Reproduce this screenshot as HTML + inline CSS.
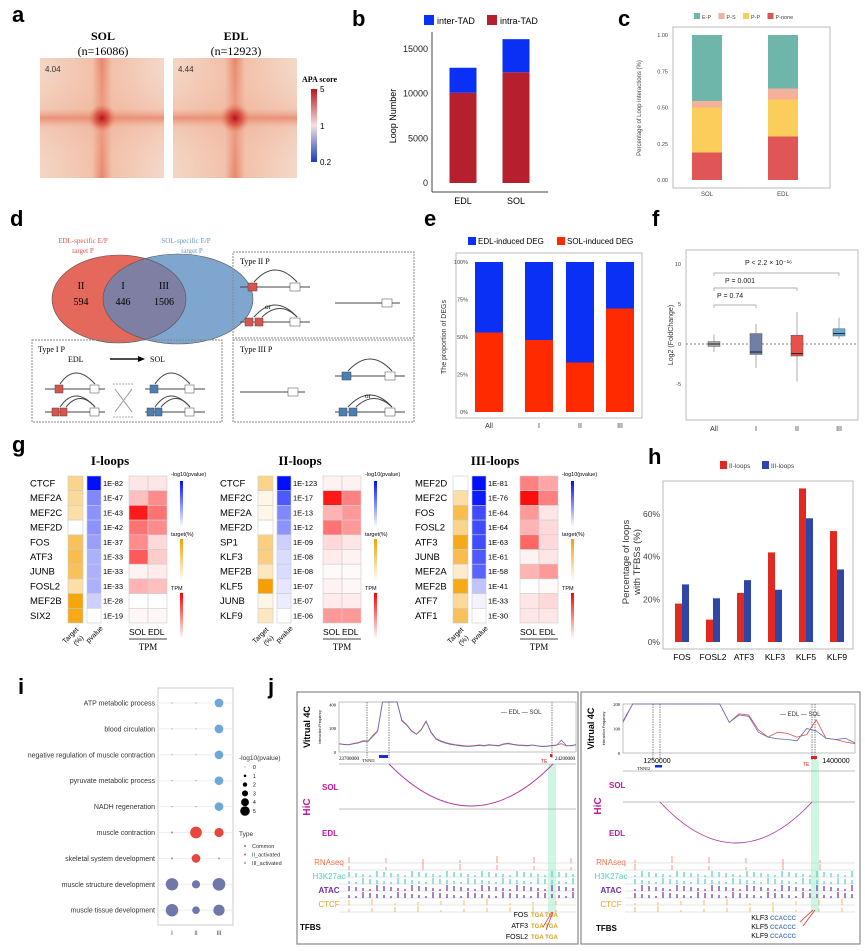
<!DOCTYPE html>
<html><head><meta charset="utf-8"><style>
html,body{margin:0;padding:0;background:#fff}
svg{display:block;font-family:"Liberation Sans",sans-serif}
.pl{font-family:"Liberation Sans",sans-serif;font-weight:bold;font-size:22px}
.ser{font-family:"Liberation Serif",serif}
</style></head><body>
<svg id="fig" width="865" height="951" viewBox="0 0 865 951" xmlns="http://www.w3.org/2000/svg">
<defs>
<linearGradient id="apaH" x1="0" x2="1" y1="0" y2="0"><stop offset="0" stop-color="#f4d6c6"/><stop offset="0.42" stop-color="#f2c0a8"/><stop offset="0.5" stop-color="#e8866a"/><stop offset="0.58" stop-color="#f2c0a8"/><stop offset="1" stop-color="#f4d8ca"/></linearGradient>
<linearGradient id="apaV" x1="0" x2="0" y1="0" y2="1"><stop offset="0" stop-color="#f4d6c6" stop-opacity="0"/><stop offset="0.42" stop-color="#f0b49c" stop-opacity="0.4"/><stop offset="0.5" stop-color="#e8866a" stop-opacity="0.85"/><stop offset="0.58" stop-color="#f0b49c" stop-opacity="0.4"/><stop offset="1" stop-color="#f4d6c6" stop-opacity="0"/></linearGradient>
<radialGradient id="apaC"><stop offset="0" stop-color="#b8101c"/><stop offset="0.5" stop-color="#d85040" stop-opacity="0.8"/><stop offset="1" stop-color="#e8866a" stop-opacity="0"/></radialGradient>
<linearGradient id="cbA" x1="0" x2="0" y1="0" y2="1"><stop offset="0" stop-color="#c0141c"/><stop offset="0.5" stop-color="#f4e0e0"/><stop offset="1" stop-color="#1a3cc0"/></linearGradient>
<linearGradient id="cbB" x1="0" x2="0" y1="0" y2="1"><stop offset="0" stop-color="#0010ff"/><stop offset="1" stop-color="#fff"/></linearGradient>
<linearGradient id="cbO" x1="0" x2="0" y1="0" y2="1"><stop offset="0" stop-color="#f5a000"/><stop offset="1" stop-color="#fff"/></linearGradient>
<linearGradient id="cbR" x1="0" x2="0" y1="0" y2="1"><stop offset="0" stop-color="#ff0000"/><stop offset="1" stop-color="#fff"/></linearGradient>
<clipPath id="redClip"><ellipse cx="119" cy="299" rx="67" ry="44"/></clipPath>
</defs>

<!-- panel labels -->
<text class="pl" x="12" y="22">a</text>
<text class="pl" x="352" y="26">b</text>
<text class="pl" x="618" y="26">c</text>
<text class="pl" x="10" y="226">d</text>
<text class="pl" x="424" y="226">e</text>
<text class="pl" x="652" y="226">f</text>
<text class="pl" x="12" y="452">g</text>
<text class="pl" x="648" y="464">h</text>
<text class="pl" x="18" y="694">i</text>
<text class="pl" x="268" y="694">j</text>

<!-- panel a -->
<g>
<text class="ser" x="103" y="40" font-size="12" font-weight="bold" text-anchor="middle">SOL</text>
<text class="ser" x="103" y="55" font-size="12" text-anchor="middle">(n=16086)</text>
<text class="ser" x="236" y="40" font-size="12" font-weight="bold" text-anchor="middle">EDL</text>
<text class="ser" x="236" y="55" font-size="12" text-anchor="middle">(n=12923)</text>
<g><rect x="40" y="58" width="124" height="120" fill="url(#apaH)"/><rect x="40" y="58" width="124" height="120" fill="url(#apaV)"/><rect x="88" y="104" width="28" height="28" fill="url(#apaC)"/></g>
<g><rect x="173" y="58" width="124" height="120" fill="url(#apaH)"/><rect x="173" y="58" width="124" height="120" fill="url(#apaV)"/><rect x="220" y="103" width="30" height="30" fill="url(#apaC)"/></g>
<text x="45" y="72" font-size="8" fill="#333">4.04</text>
<text x="178" y="72" font-size="8" fill="#333">4.44</text>
<text class="ser" x="302" y="82" font-size="8" font-weight="bold">APA score</text>
<rect x="311" y="89" width="6" height="73" fill="url(#cbA)"/>
<text x="320" y="92" font-size="8">5</text>
<text x="320" y="129" font-size="8">1</text>
<text x="320" y="165" font-size="8">0.2</text>
</g>

<g id="pb"></g>
<g id="pc"></g>

<!-- panel d -->
<g font-family="Liberation Serif,serif">
<text x="83" y="243" font-size="7" fill="#d9534f" text-anchor="middle">EDL-specific E/P</text>
<text x="83" y="253" font-size="7" fill="#d9534f" text-anchor="middle">target P</text>
<text x="186" y="243" font-size="7" fill="#6b96c8" text-anchor="middle">SOL-specific E/P</text>
<text x="192" y="253" font-size="7" fill="#6b96c8" text-anchor="middle">target P</text>
<ellipse cx="119" cy="299" rx="67" ry="44" fill="#e5685c"/>
<ellipse cx="178" cy="299" rx="75" ry="45" fill="#7ea6cf"/>
<ellipse cx="178" cy="299" rx="75" ry="45" fill="#7e7fa2" clip-path="url(#redClip)"/>
<ellipse cx="119" cy="299" rx="67" ry="44" fill="none" stroke="#555" stroke-width="0.6"/>
<ellipse cx="178" cy="299" rx="75" ry="45" fill="none" stroke="#555" stroke-width="0.6"/>
<text x="81" y="289" font-size="10" text-anchor="middle">II</text>
<text x="81" y="305" font-size="10" text-anchor="middle">594</text>
<text x="123" y="289" font-size="10" text-anchor="middle">I</text>
<text x="123" y="305" font-size="10" text-anchor="middle">446</text>
<text x="164" y="289" font-size="10" text-anchor="middle">III</text>
<text x="164" y="305" font-size="10" text-anchor="middle">1506</text>
</g>
<g font-family="Liberation Serif,serif">
<rect x="32" y="340" width="190" height="82" fill="none" stroke="#888" stroke-dasharray="2,1"/>
<text x="38" y="352" font-size="8">Type I P</text>
<text x="68" y="362" font-size="8">EDL</text><text x="150" y="362" font-size="8">SOL</text>
<line x1="110" y1="359" x2="138" y2="359" stroke="#111" stroke-width="1.5"/><path d="M138 356 L145 359 L138 362Z"/>
<g stroke="#444" stroke-width="1" fill="none">
<line x1="45" y1="389" x2="105" y2="389"/><line x1="45" y1="412" x2="105" y2="412"/>
<line x1="145" y1="389" x2="205" y2="389"/><line x1="145" y1="412" x2="205" y2="412"/>
<path d="M60 384 Q75 362 95 384"/><path d="M60 407 Q75 385 95 407"/><path d="M66 407 Q80 390 95 407"/>
<path d="M155 384 Q170 362 190 384"/><path d="M155 407 Q170 385 190 407"/><path d="M161 407 Q176 390 190 407"/>
<line x1="115" y1="389" x2="132" y2="412" stroke="#999"/><line x1="115" y1="412" x2="132" y2="389" stroke="#999"/>
<line x1="113" y1="384" x2="134" y2="384" stroke="#aaa" stroke-dasharray="2,1"/><line x1="113" y1="417" x2="134" y2="417" stroke="#aaa" stroke-dasharray="2,1"/>
</g>
<rect x="55" y="385" width="8" height="8" fill="#d9534f" stroke="#444" stroke-width=".5"/><rect x="52" y="408" width="7" height="8" fill="#d9534f" stroke="#444" stroke-width=".5"/><rect x="60" y="408" width="7" height="8" fill="#d9534f" stroke="#444" stroke-width=".5"/>
<rect x="90" y="385" width="9" height="8" fill="#fff" stroke="#444" stroke-width=".5"/><rect x="90" y="408" width="9" height="8" fill="#fff" stroke="#444" stroke-width=".5"/>
<rect x="150" y="385" width="8" height="8" fill="#4a7fb5" stroke="#444" stroke-width=".5"/><rect x="147" y="408" width="7" height="8" fill="#4a7fb5" stroke="#444" stroke-width=".5"/><rect x="155" y="408" width="7" height="8" fill="#4a7fb5" stroke="#444" stroke-width=".5"/>
<rect x="185" y="385" width="9" height="8" fill="#fff" stroke="#444" stroke-width=".5"/><rect x="185" y="408" width="9" height="8" fill="#fff" stroke="#444" stroke-width=".5"/>
</g>
<g font-family="Liberation Serif,serif">
<rect x="233" y="252" width="181" height="86" fill="none" stroke="#888" stroke-dasharray="2,1"/>
<text x="240" y="264" font-size="8">Type II P</text>
<g stroke="#444" fill="none"><line x1="240" y1="287" x2="310" y2="287"/><line x1="240" y1="322" x2="310" y2="322"/><line x1="335" y1="303" x2="400" y2="303"/>
<path d="M254 282 Q275 258 297 282"/><path d="M254 317 Q275 293 297 317"/><path d="M262 317 Q280 300 297 317"/></g>
<text x="265" y="309" font-size="7">or</text>
<rect x="248" y="283" width="9" height="8" fill="#d9534f" stroke="#444" stroke-width=".5"/><rect x="245" y="318" width="8" height="8" fill="#d9534f" stroke="#444" stroke-width=".5"/><rect x="255" y="318" width="8" height="8" fill="#d9534f" stroke="#444" stroke-width=".5"/>
<rect x="290" y="283" width="10" height="8" fill="#fff" stroke="#444" stroke-width=".5"/><rect x="290" y="318" width="10" height="8" fill="#fff" stroke="#444" stroke-width=".5"/><rect x="382" y="299" width="10" height="8" fill="#fff" stroke="#444" stroke-width=".5"/>
</g>
<g font-family="Liberation Serif,serif">
<rect x="233" y="340" width="181" height="82" fill="none" stroke="#888" stroke-dasharray="2,1"/>
<text x="240" y="352" font-size="8">Type III P</text>
<g stroke="#444" fill="none"><line x1="240" y1="392" x2="305" y2="392"/><line x1="335" y1="376" x2="405" y2="376"/><line x1="335" y1="412" x2="405" y2="412"/>
<path d="M348 371 Q370 347 392 371"/><path d="M348 407 Q370 383 392 407"/><path d="M356 407 Q374 390 392 407"/></g>
<text x="365" y="398" font-size="7">or</text>
<rect x="288" y="388" width="10" height="8" fill="#fff" stroke="#444" stroke-width=".5"/>
<rect x="342" y="372" width="9" height="8" fill="#4a7fb5" stroke="#444" stroke-width=".5"/><rect x="339" y="408" width="8" height="8" fill="#4a7fb5" stroke="#444" stroke-width=".5"/><rect x="349" y="408" width="8" height="8" fill="#4a7fb5" stroke="#444" stroke-width=".5"/>
<rect x="385" y="372" width="10" height="8" fill="#fff" stroke="#444" stroke-width=".5"/><rect x="385" y="408" width="10" height="8" fill="#fff" stroke="#444" stroke-width=".5"/>
</g>

<g id="pe"></g>
<g id="pf"></g>
<g id="pg"></g>
<g id="ph"></g>
<g id="pi"></g>

<!-- panel j -->
<g>
<rect x="297" y="692" width="281" height="252" fill="none" stroke="#888" stroke-width="1.2"/>
<rect x="581" y="692" width="279" height="252" fill="none" stroke="#888" stroke-width="1.2"/>
<g id="pj"></g>
</g>
</svg>
<script>
// ---------- data ----------
const bCats=['EDL','SOL'];
const bIntra=[10100,12400];
const bInter=[2800,3700];
const bTicks=[0,5000,10000,15000];

const cCats=['SOL','EDL'];
const cNone=[0.19,0.30];
const cPP=[0.31,0.255];
const cPS=[0.045,0.075];
const cEP=[0.455,0.37];
const cTicks=[0,0.25,0.5,0.75,1];
const cTickLabels=['0.00','0.25','0.50','0.75','1.00'];

const eCats=['All','I','II','III'];
const eSol=[0.53,0.48,0.33,0.69];
const eTicks=[0,0.25,0.5,0.75,1];
const eTickLabels=['0%','25%','50%','75%','100%'];

const fCats=['All','I','II','III'];
const fQ1=[-0.3,-1.3,-1.5,1.0];
const fMed=[0,-1.0,-1.2,1.3];
const fQ3=[0.3,1.3,1.1,1.9];
const fLo=[-1.0,-3.0,-4.7,0.6];
const fHi=[1.2,2.5,4.0,3.3];
const fTicks=[-5,0,5,10];

const gI_names=['CTCF','MEF2A','MEF2C','MEF2D','FOS','ATF3','JUNB','FOSL2','MEF2B','SIX2'];
const gI_target=[0.45,0.4,0.35,0,0.65,0.7,0.65,0.35,0.95,0.9];
const gI_p=[1,0.5,0.45,0.45,0.4,0.33,0.33,0.33,0.2,0];
const gI_pl=['1E-82','1E-47','1E-43','1E-42','1E-37','1E-33','1E-33','1E-33','1E-28','1E-19'];
const gI_sol=[0.1,0.25,0.9,0.55,0.45,0.65,0.05,0.3,0,0.03];
const gI_edl=[0.1,0.45,0.55,0.45,0.15,0.2,0.08,0.25,0,0.03];
const gII_names=['CTCF','MEF2C','MEF2A','MEF2D','SP1','KLF3','MEF2B','KLF5','JUNB','KLF9'];
const gII_target=[0.45,0.1,0.1,0,0.5,0.5,0.25,1,0.1,0.25];
const gII_p=[1,0.7,0.5,0.45,0.2,0.15,0.15,0.1,0.08,0];
const gII_pl=['1E-123','1E-17','1E-13','1E-12','1E-09','1E-08','1E-08','1E-07','1E-07','1E-06'];
const gII_sol=[0.05,0.9,0.3,0.55,0.15,0.08,0.02,0.05,0.08,0.4];
const gII_edl=[0.05,0.5,0.4,0.4,0.1,0.05,0.02,0.03,0.08,0.4];
const gIII_names=['MEF2D','MEF2C','FOS','FOSL2','ATF3','JUNB','MEF2A','MEF2B','ATF7','ATF1'];
const gIII_target=[0,0.35,0.7,0.45,0.9,0.7,0.2,0.9,0.4,0.65];
const gIII_p=[1,0.95,0.75,0.75,0.75,0.7,0.65,0.25,0.05,0];
const gIII_pl=['1E-81','1E-76','1E-64','1E-64','1E-63','1E-61','1E-58','1E-41','1E-33','1E-30'];
const gIII_sol=[0.5,0.95,0.4,0.3,0.6,0.05,0.3,0,0.1,0.1];
const gIII_edl=[0.35,0.5,0.1,0.15,0.15,0.1,0.4,0.02,0.15,0.1];

const hCats=['FOS','FOSL2','ATF3','KLF3','KLF5','KLF9'];
const hII=[18,10.5,23,42,72,52];
const hIII=[27,20.5,29,24.5,58,34];
const hTicks=[0,20,40,60];

const iTerms=['ATP metabolic process','blood circulation','negative regulation of muscle contraction','pyruvate metabolic process','NADH regeneration','muscle contraction','skeletal system development','muscle structure development','muscle tissue development'];
const iCols=['I','II','III'];
const iValI=[0,0,0,0,0,0.3,0.3,4.5,4.5];
const iValII=[0,0,0,0,0,4.2,3,2.8,2.6];
const iValIII=[3,3,3,3,3,3.2,0.3,4.6,4];
const iType=['III','III','III','III','III','II','II','C','C'];
const iSizeLegend=[0,1,2,3,4,5];

const jL_edl=[70,65,62,72,80,95,90,140,180,420,420,420,420,270,230,180,150,190,260,170,115,95,80,70,62,58,52,50,55,60,55,62,58,55,68,75,65,60,58,55,60,52,48,50,55,60,70,50,55,62];
const jL_sol=[68,62,60,68,76,90,88,130,175,420,420,420,420,260,225,175,148,185,255,165,110,88,75,65,58,52,48,46,50,55,50,58,55,50,64,70,62,56,54,50,58,50,45,48,52,56,100,55,52,60];
const jR_edl=[125,210,250,250,250,250,250,250,250,250,250,125,160,155,95,65,85,80,65,75,135,60,55,45,38];
const jR_sol=[130,220,250,250,250,250,250,250,250,250,250,125,155,150,85,65,58,55,50,100,90,60,55,60,42];
// ---------- helpers ----------
const NS='http://www.w3.org/2000/svg';
function mk(parent,tag,attrs,text){const e=document.createElementNS(NS,tag);for(const k in attrs)e.setAttribute(k,attrs[k]);if(text!==undefined)e.textContent=text;parent.appendChild(e);return e;}
function lerpCol(c,t){const r=Math.round(255+(c[0]-255)*t),g=Math.round(255+(c[1]-255)*t),b=Math.round(255+(c[2]-255)*t);return `rgb(${r},${g},${b})`;}
let el;
// ---------- panel b ----------
(function(){const g=document.getElementById('pb');
const y=v=>183-v*(134/15000);const xc=[463,516];
el=mk(g,'line',{x1:432,y1:32,x2:432,y2:192,stroke:'#444'});
el=mk(g,'line',{x1:432,y1:192,x2:548,y2:192,stroke:'#444'});
bTicks.forEach(t=>{el=mk(g,'text',{x:428,y:y(t)+3,'font-size':9,'text-anchor':'end',fill:'#222'},t);});
el=mk(g,'text',{x:0,y:0,'font-size':9,'text-anchor':'middle',transform:'translate(396,116) rotate(-90)'},'Loop Number');
bCats.forEach((c,i)=>{
el=mk(g,'rect',{x:xc[i]-13.5,y:y(bIntra[i]),width:27,height:y(0)-y(bIntra[i]),fill:'#b61f2e'});
el=mk(g,'rect',{x:xc[i]-13.5,y:y(bIntra[i]+bInter[i]),width:27,height:y(bIntra[i])-y(bIntra[i]+bInter[i]),fill:'#0a2ff5'});
el=mk(g,'text',{x:xc[i],y:204,'font-size':9,'text-anchor':'middle'},c);});
el=mk(g,'rect',{x:424,y:15,width:10,height:10,fill:'#0a2ff5'});
el=mk(g,'text',{x:437,y:24,'font-size':9},'inter-TAD');
el=mk(g,'rect',{x:487,y:15,width:10,height:10,fill:'#b61f2e'});
el=mk(g,'text',{x:500,y:24,'font-size':9},'intra-TAD');
})();
// ---------- panel c ----------
(function(){const g=document.getElementById('pc');
const y=v=>180-v*145;const xc=[707,783];
el=mk(g,'rect',{x:673,y:27,width:157,height:161,fill:'none',stroke:'#bbb'});
cTicks.forEach((t,i)=>{el=mk(g,'text',{x:668,y:y(t)+2,'font-size':5.5,'text-anchor':'end',fill:'#444'},cTickLabels[i]);});
el=mk(g,'text',{x:0,y:0,'font-size':6,'text-anchor':'middle',fill:'#444',transform:'translate(641,108) rotate(-90)'},'Percentage of Loop interactions (%)');
const segs=[[cNone,'#e05555','P-none'],[cPP,'#fbcd5a','P-P'],[cPS,'#f5b09a','P-S'],[cEP,'#6db6a9','E-P']];
cCats.forEach((c,i)=>{let acc=0;segs.forEach(s=>{const v=s[0][i];el=mk(g,'rect',{x:xc[i]-15,y:y(acc+v),width:30,height:y(acc)-y(acc+v),fill:s[1]});acc+=v;});
el=mk(g,'text',{x:xc[i],y:196,'font-size':6,'text-anchor':'middle',fill:'#444'},c);});
const leg=[['E-P','#6db6a9'],['P-S','#f5b09a'],['P-P','#fbcd5a'],['P-none','#e05555']];let lx=694;
leg.forEach(l=>{el=mk(g,'rect',{x:lx,y:13,width:6,height:6,fill:l[1]});
el=mk(g,'text',{x:lx+8,y:19,'font-size':5.5,fill:'#444'},l[0]);lx+=l[0].length*3.5+14;});
})();
// ---------- panel e ----------
(function(){const g=document.getElementById('pe');
const y=v=>412-v*150;const xc=[489,539,580,620];
el=mk(g,'rect',{x:456,y:253,width:186,height:165,fill:'none',stroke:'#bbb'});
eTicks.forEach((t,i)=>{el=mk(g,'text',{x:468,y:y(t)+2,'font-size':5.5,'text-anchor':'end',fill:'#444'},eTickLabels[i]);});
el=mk(g,'text',{x:0,y:0,'font-size':7,'text-anchor':'middle',fill:'#333',transform:'translate(446,337) rotate(-90)'},'The proportion of DEGs');
eCats.forEach((c,i)=>{
el=mk(g,'rect',{x:xc[i]-14,y:y(eSol[i]),width:28,height:y(0)-y(eSol[i]),fill:'#ff2a00'});
el=mk(g,'rect',{x:xc[i]-14,y:y(1),width:28,height:y(eSol[i])-y(1),fill:'#0a2ff5'});
el=mk(g,'text',{x:xc[i],y:428,'font-size':7,'text-anchor':'middle',fill:'#333'},c);});
el=mk(g,'rect',{x:468,y:237,width:8,height:8,fill:'#0a2ff5'});
el=mk(g,'text',{x:478,y:244,'font-size':8},'EDL-induced DEG');
el=mk(g,'rect',{x:557,y:237,width:8,height:8,fill:'#ff2a00'});
el=mk(g,'text',{x:567,y:244,'font-size':8},'SOL-induced DEG');
})();
// ---------- panel f ----------
(function(){const g=document.getElementById('pf');
const y=v=>344-v*8;const xc=[714,756,797,839];const cols=['#aaaaaa','#6f7fa6','#e8504a','#6aaad2'];
el=mk(g,'rect',{x:686,y:250,width:172,height:170,fill:'none',stroke:'#bbb'});
fTicks.forEach(t=>{el=mk(g,'text',{x:681,y:y(t)+2,'font-size':5.5,'text-anchor':'end',fill:'#444'},t);});
el=mk(g,'text',{x:0,y:0,'font-size':7,'text-anchor':'middle',fill:'#333',transform:'translate(673,335) rotate(-90)'},'Log2 (FoldChange)');
el=mk(g,'line',{x1:686,y1:y(0),x2:858,y2:y(0),stroke:'#555','stroke-dasharray':'2,2','stroke-width':0.7});
fCats.forEach((c,i)=>{
el=mk(g,'line',{x1:xc[i],y1:y(fLo[i]),x2:xc[i],y2:y(fHi[i]),stroke:'#777','stroke-width':0.6});
el=mk(g,'rect',{x:xc[i]-6,y:y(fQ3[i]),width:12,height:y(fQ1[i])-y(fQ3[i]),fill:cols[i],stroke:'#555','stroke-width':0.5});
el=mk(g,'line',{x1:xc[i]-6,y1:y(fMed[i]),x2:xc[i]+6,y2:y(fMed[i]),stroke:'#222','stroke-width':1});
el=mk(g,'text',{x:xc[i],y:431,'font-size':7,'text-anchor':'middle',fill:'#333'},c);});
const br=[[1,305,'P = 0.74',717,298],[2,288,'P = 0.001',725,283],[3,273,'P < 2.2 × 10⁻¹⁶',745,265]];
br.forEach(b=>{el=mk(g,'path',{d:`M${xc[0]} ${b[1]+3} V${b[1]} H${xc[b[0]]} V${b[1]+3}`,fill:'none',stroke:'#999','stroke-width':0.7});
el=mk(g,'text',{x:b[3],y:b[4],'font-size':7,fill:'#222'},b[2]);});
})();
// ---------- panel g ----------
(function(){const g=document.getElementById('pg');
const O=[245,160,0],B=[0,16,255],R=[255,0,0];const rowY=i=>476+i*14.7;const rh=14.7;
function panel(title,ox,tx,names,tg,p,pl,sol,edl){
el=mk(g,'text',{x:ox+110,y:465,'font-size':13,'font-weight':'bold','text-anchor':'middle','font-family':'Liberation Serif,serif'},title);
names.forEach((n,i)=>{const yy=rowY(i);
el=mk(g,'text',{x:ox+30,y:yy+10.5,'font-size':9.5},n);
el=mk(g,'rect',{x:ox+68,y:yy,width:15,height:rh,fill:lerpCol(O,tg[i]),stroke:'#ccc','stroke-width':0.6});
el=mk(g,'rect',{x:ox+87,y:yy,width:14,height:rh,fill:lerpCol(B,p[i]),stroke:'#ccc','stroke-width':0.6});
el=mk(g,'text',{x:ox+103,y:yy+10,'font-size':7.5},pl[i]);
el=mk(g,'rect',{x:ox+tx+129,y:yy,width:19,height:rh,fill:lerpCol(R,sol[i]),stroke:'#ccc','stroke-width':0.6});
el=mk(g,'rect',{x:ox+tx+148,y:yy,width:19,height:rh,fill:lerpCol(R,edl[i]),stroke:'#ccc','stroke-width':0.6});});
el=mk(g,'text',{x:0,y:0,'font-size':7,'text-anchor':'middle',transform:`translate(${ox+72},637) rotate(-45)`},'Target');
el=mk(g,'text',{x:0,y:0,'font-size':7,'text-anchor':'middle',transform:`translate(${ox+80},642) rotate(-45)`},'(%)');
el=mk(g,'text',{x:0,y:0,'font-size':7,'text-anchor':'middle',transform:`translate(${ox+96},636) rotate(-45)`},'pvalue');
el=mk(g,'text',{x:ox+tx+129,y:635,'font-size':8.5},'SOL');
el=mk(g,'text',{x:ox+tx+148,y:635,'font-size':8.5},'EDL');
el=mk(g,'line',{x1:ox+tx+129,y1:639,x2:ox+tx+167,y2:639,stroke:'#444'});
el=mk(g,'text',{x:ox+tx+148,y:650,'font-size':9,'text-anchor':'middle','font-family':'Liberation Serif,serif'},'TPM');
const lx=ox+tx+171;
el=mk(g,'text',{x:lx,y:476,'font-size':5.5},'-log10(pvalue)');
el=mk(g,'rect',{x:lx+9,y:481,width:3,height:46,fill:'url(#cbB)'});
el=mk(g,'text',{x:lx,y:536,'font-size':5.5},'target(%)');
el=mk(g,'rect',{x:lx+9,y:539,width:3,height:42,fill:'url(#cbO)'});
el=mk(g,'text',{x:lx,y:590,'font-size':5.5},'TPM');
el=mk(g,'rect',{x:lx+9,y:593,width:3,height:46,fill:'url(#cbR)'});}
panel('I-loops',0,0,gI_names,gI_target,gI_p,gI_pl,gI_sol,gI_edl);
panel('II-loops',190,4,gII_names,gII_target,gII_p,gII_pl,gII_sol,gII_edl);
panel('III-loops',385,6,gIII_names,gIII_target,gIII_p,gIII_pl,gIII_sol,gIII_edl);
})();
// ---------- panel h ----------
(function(){const g=document.getElementById('ph');
const y=v=>642-v*2.133;const x0=682,dx=31;
el=mk(g,'rect',{x:663,y:481,width:190,height:168,fill:'none',stroke:'#bbb'});
hTicks.forEach(t=>{el=mk(g,'text',{x:660,y:y(t)+3,'font-size':8.5,'text-anchor':'end',fill:'#444'},t+'%');});
el=mk(g,'text',{x:0,y:0,'font-size':9.5,'text-anchor':'middle',fill:'#333',transform:'translate(629,562) rotate(-90)'},'Percentage of loops');
el=mk(g,'text',{x:0,y:0,'font-size':9.5,'text-anchor':'middle',fill:'#333',transform:'translate(640,562) rotate(-90)'},'with TFBSs (%)');
hCats.forEach((c,i)=>{const xc=x0+i*dx;
el=mk(g,'rect',{x:xc-7,y:y(hII[i]),width:7,height:y(0)-y(hII[i]),fill:'#e2291f'});
el=mk(g,'rect',{x:xc,y:y(hIII[i]),width:7,height:y(0)-y(hIII[i]),fill:'#2d46a8'});
el=mk(g,'text',{x:xc,y:660,'font-size':8.5,'text-anchor':'middle'},c);});
el=mk(g,'rect',{x:720,y:461,width:7,height:8,fill:'#e2291f'});
el=mk(g,'text',{x:729,y:468,'font-size':6.5,fill:'#444'},'II-loops');
el=mk(g,'rect',{x:762,y:461,width:7,height:8,fill:'#2d46a8'});
el=mk(g,'text',{x:771,y:468,'font-size':6.5,fill:'#444'},'III-loops');
})();
// ---------- panel i ----------
(function(){const g=document.getElementById('pi');
const xc=[172,196,219];const y=i=>703+i*25.9;const r=v=>0.6+v*1.25;
const tc={'C':'#6f78a8','II':'#e8473d','III':'#6fa8d6'};
el=mk(g,'rect',{x:158,y:688,width:75,height:237,fill:'none',stroke:'#ccc'});
iTerms.forEach((t,i)=>{el=mk(g,'line',{x1:158,y1:y(i),x2:233,y2:y(i),stroke:'#eee'});
el=mk(g,'text',{x:155,y:y(i)+2.5,'font-size':7,'text-anchor':'end',fill:'#333'},t);
[iValI,iValII,iValIII].forEach((arr,j)=>{el=mk(g,'circle',{cx:xc[j],cy:y(i),r:r(arr[i]),fill:arr[i]<0.5?'#999':tc[iType[i]]});});});
iCols.forEach((c,j)=>{el=mk(g,'text',{x:xc[j],y:935,'font-size':6,'text-anchor':'middle',fill:'#444'},c);});
el=mk(g,'text',{x:239,y:760,'font-size':6.5,fill:'#333'},'-log10(pvalue)');
iSizeLegend.forEach((v,k)=>{const yy=767+k*8.8;el=mk(g,'circle',{cx:245,cy:yy,r:r(v)*0.7,fill:'#000'});
el=mk(g,'text',{x:253,y:yy+2,'font-size':5},v);});
el=mk(g,'text',{x:239,y:836,'font-size':6.5,fill:'#333'},'Type');
[['Common','#6f78a8'],['II_activated','#e8473d'],['III_activated','#999']].forEach((l,k)=>{const yy=846+k*8.5;
el=mk(g,'circle',{cx:245,cy:yy,r:1,fill:l[1]});
el=mk(g,'text',{x:252,y:yy+2,'font-size':5.5,fill:'#333'},l[0]);});
})();
// ---------- panel j ----------
(function(){const g=document.getElementById('pj');
function fourC(x0,x1,y0,y1,ymax,edl,sol,ticks,side){
el=mk(g,'rect',{x:x0,y:y0,width:x1-x0,height:y1-y0,fill:'none',stroke:'#999','stroke-width':0.6});
const n=edl.length;const xs=i=>x0+i*(x1-x0)/(n-1);const ys=v=>Math.max(y0,y1-v/ymax*(y1-y0));
const pth=a=>a.map((v,i)=>(i?'L':'M')+xs(i).toFixed(1)+' '+ys(v).toFixed(1)).join(' ');
el=mk(g,'path',{d:pth(edl),fill:'none',stroke:'#e05050','stroke-width':0.8});
el=mk(g,'path',{d:pth(sol),fill:'none',stroke:'#6070b8','stroke-width':0.8});
ticks.forEach(t=>{el=mk(g,'text',{x:x0-3,y:ys(t)+2,'font-size':4.5,'text-anchor':'end','font-family':'Liberation Serif,serif'},t);});
el=mk(g,'text',{x:0,y:0,'font-size':9,'font-weight':'bold','text-anchor':'middle',transform:`translate(${x0-29},${(y0+y1)/2}) rotate(-90)`},'Vitrual 4C');
el=mk(g,'text',{x:0,y:0,'font-size':3.5,'text-anchor':'middle',transform:`translate(${x0-18},${(y0+y1)/2}) rotate(-90)`},'Interaction Frequency');
el=mk(g,'text',{x:x1-75,y:y0+12,'font-size':6,fill:'#333'},'— EDL  — SOL');}
fourC(339,576,702,752,420,jL_edl,jL_sol,[0,200,400],'left');
fourC(623,855,704,753,200,jR_edl,jR_sol,[0,100,200],'right');
const st=(o,n)=>{el=mk(g,o.tag,o.a,o.t);};
st({tag:'line',a:{x1:367,y1:702,x2:367,y2:758,stroke:'#333','stroke-dasharray':'1.5,1','stroke-width':0.6}},'j-anchor-line');
st({tag:'line',a:{x1:389,y1:702,x2:389,y2:758,stroke:'#333','stroke-dasharray':'1.5,1','stroke-width':0.6}},'j-anchor-line');
st({tag:'line',a:{x1:552,y1:702,x2:552,y2:758,stroke:'#333','stroke-dasharray':'1.5,1','stroke-width':0.6}},'j-anchor-line');
st({tag:'text',a:{x:339,y:760,'font-size':5,'font-family':'Liberation Serif,serif'},t:'23700000'},'j-coord-start');
st({tag:'text',a:{x:555,y:760,'font-size':5,'font-family':'Liberation Serif,serif'},t:'24200000'},'j-coord-end');
st({tag:'rect',a:{x:379,y:755,width:9,height:3,fill:'#1030e0'}},'j-gene-tnni');
st({tag:'text',a:{x:362,y:762,'font-size':4.5,'font-family':'Liberation Serif,serif'},t:'TNNI1'},'j-gene-label');
st({tag:'rect',a:{x:550,y:754,width:2.5,height:3,fill:'#e02020'}},'j-te-mark');
st({tag:'text',a:{x:541,y:763,'font-size':5,fill:'#e02020'},t:'TE'},'j-te-label');
st({tag:'rect',a:{x:548,y:764,width:8,height:148,fill:'#5fe0a8','fill-opacity':0.3}},'j-highlight-left');
st({tag:'line',a:{x1:339,y1:764,x2:576,y2:764,stroke:'#aaa','stroke-width':0.8}},'j-hic-top-line');
st({tag:'line',a:{x1:339,y1:809,x2:576,y2:809,stroke:'#aaa','stroke-width':0.8}},'j-hic-mid-line');
st({tag:'path',a:{d:'M389 764 Q471 848 553 764',fill:'none',stroke:'#b03aa0','stroke-width':0.9}},'j-hic-arc-sol');
st({tag:'text',a:{x:322,y:790,'font-size':8,'font-weight':'bold',fill:'#c0189a'},t:'SOL'},'j-hic-sol-label');
st({tag:'text',a:{x:322,y:836,'font-size':8,'font-weight':'bold',fill:'#c0189a'},t:'EDL'},'j-hic-edl-label');
st({tag:'text',a:{x:0,y:0,'font-size':10,'font-weight':'bold',fill:'#c0189a','text-anchor':'middle',transform:'translate(310,807) rotate(-90)'},t:'HiC'},'j-hic-label');
[653,660,812,815].forEach(xx=>st({tag:'line',a:{x1:xx,y1:704,x2:xx,y2:760,stroke:'#333','stroke-dasharray':'1.5,1','stroke-width':0.6}},'j-anchor-line'));
st({tag:'text',a:{x:657,y:763,'font-size':7,'text-anchor':'middle'},t:'1250000'},'j-coord-start');
st({tag:'text',a:{x:836,y:763,'font-size':7,'text-anchor':'middle'},t:'1400000'},'j-coord-end');
st({tag:'rect',a:{x:655,y:765,width:7,height:2.5,fill:'#1030e0'}},'j-gene-tnni2');
st({tag:'text',a:{x:637,y:770,'font-size':4.5,'font-family':'Liberation Serif,serif'},t:'TNNI2'},'j-gene-label');
st({tag:'rect',a:{x:811,y:756,width:6,height:3,fill:'#e02020'}},'j-te-mark');
st({tag:'text',a:{x:803,y:766,'font-size':5,fill:'#e02020'},t:'TE'},'j-te-label');
st({tag:'rect',a:{x:811,y:760,width:8,height:152,fill:'#5fe0a8','fill-opacity':0.3}},'j-highlight-right');
st({tag:'line',a:{x1:623,y1:771,x2:855,y2:771,stroke:'#aaa','stroke-width':0.8}},'j-hic-top-line');
st({tag:'line',a:{x1:623,y1:802,x2:855,y2:802,stroke:'#aaa','stroke-width':0.8}},'j-hic-mid-line');
st({tag:'path',a:{d:'M660 802 Q736 884 812 802',fill:'none',stroke:'#b03aa0','stroke-width':0.9}},'j-hic-arc-edl');
st({tag:'text',a:{x:609,y:788,'font-size':8,'font-weight':'bold',fill:'#c0189a'},t:'SOL'},'j-hic-sol-label');
st({tag:'text',a:{x:609,y:836,'font-size':8,'font-weight':'bold',fill:'#c0189a'},t:'EDL'},'j-hic-edl-label');
st({tag:'text',a:{x:0,y:0,'font-size':10,'font-weight':'bold',fill:'#c0189a','text-anchor':'middle',transform:'translate(601,806) rotate(-90)'},t:'HiC'},'j-hic-label');
const tr=[['RNAseq','#f07050',862],['H3K27ac','#4fd0c0',876],['ATAC','#7030a0',890],['CTCF','#e8a020',904]];
[[297,339,576,0],[581,625,855,1]].forEach(b=>{tr.forEach((t,k)=>{
st({tag:'text',a:{x:b[0]+(b[3]?30:32),y:t[2]+3,'font-size':8,fill:t[1],'text-anchor':'middle','font-weight':k==2?'bold':'normal'},t:t[0]},'j-track-label');
for(let s=0;s<2;s++){const yy=t[2]-4+s*7;
st({tag:'line',a:{x1:b[1],y1:yy+5,x2:b[2],y2:yy+5,stroke:'#ccc','stroke-width':0.5}},'j-track-baseline');
let d='';for(let x=b[1]+10;x<b[2];x+=k==0?37:(k==3?23:7)){const h=(k==0?3:2)+((x*7+s*13+k*5)%5);d+=`M${x} ${yy+5} v${-h} `;}
st({tag:'path',a:{d:d,stroke:t[1],'stroke-width':k==1||k==2?1.2:0.7}},'j-track-signal');}
});});
st({tag:'text',a:{x:300,y:930,'font-size':8,'font-weight':'bold'},t:'TFBS'},'j-tfbs-label');
st({tag:'text',a:{x:596,y:931,'font-size':8,'font-weight':'bold'},t:'TFBS'},'j-tfbs-label');
[['FOS',917],['ATF3',928],['FOSL2',939]].forEach(m=>{st({tag:'text',a:{x:528,y:m[1],'font-size':7,'text-anchor':'end'},t:m[0]},'j-motif-name');st({tag:'text',a:{x:531,y:m[1],'font-size':6,fill:'#d4a020','font-weight':'bold'},t:'TGA TGA'},'j-motif-logo');});
[['KLF3',920],['KLF5',929],['KLF9',938]].forEach(m=>{st({tag:'text',a:{x:768,y:m[1],'font-size':7,'text-anchor':'end'},t:m[0]},'j-motif-name');st({tag:'text',a:{x:770,y:m[1],'font-size':6,fill:'#5080c0','font-weight':'bold'},t:'CCACCC'},'j-motif-logo');});
st({tag:'path',a:{d:'M543 927 L552 912 M546 930 L553 912',stroke:'#e02020','stroke-width':0.7,fill:'none'}},'j-motif-arrow');
st({tag:'path',a:{d:'M800 922 L813 910 M803 926 L815 910',stroke:'#e02020','stroke-width':0.7,fill:'none'}},'j-motif-arrow');
})();
</script>
</body></html>
